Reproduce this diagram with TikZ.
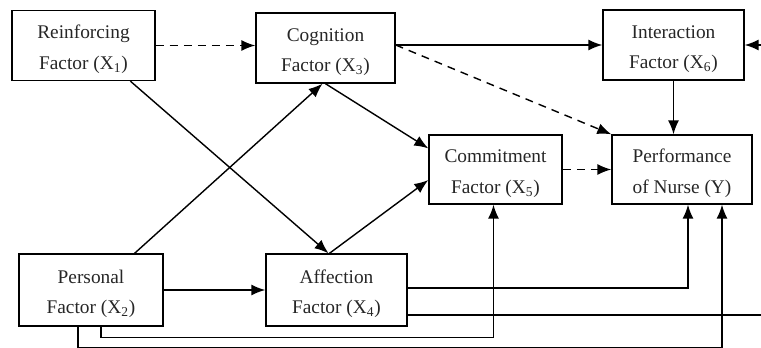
\documentclass[tikz,border=0pt]{standalone}
\usepackage{fontspec}
\setmainfont{Liberation Serif}
\usetikzlibrary{arrows.meta, positioning, calc}
\newcommand{\boxstrut}{\rule{0pt}{12pt}}
\tikzset{fbox/.style={rectangle, draw, line width=0.8pt, align=center, inner sep=2pt, minimum width=2.82cm, minimum height=1.4cm, font=\fontsize{11}{17.5}\selectfont, text=black!85},
link/.style={draw, line width=0.8pt, -{Latex[length=2.8mm,width=2.2mm]}},
dlink/.style={link, dash pattern=on 4.5pt off 3.5pt}}

\begin{document}
\begin{tikzpicture}[x=0.02cm, y=-0.02cm]
\useasboundingbox (0,0) rectangle (761,348);

\node[fbox, minimum width=2.86cm] (x1) at (83.5,45.5) {\boxstrut Reinforcing\\Factor (X\textsubscript{1})};
\node[fbox, minimum width=2.78cm] (x3) at (325.5,48) {\boxstrut Cognition\\Factor (X\textsubscript{3})};
\node[fbox] (x6) at (673.5,45) {\boxstrut Interaction\\Factor (X\textsubscript{6})};
\node[fbox, minimum width=2.66cm, minimum height=1.38cm] (x5) at (495.5,169.5) {\boxstrut Commitment\\Factor (X\textsubscript{5})};
\node[fbox, minimum width=2.8cm, minimum height=1.38cm] (y) at (682,169.5) {\boxstrut Performance\\of Nurse (Y)};
\node[fbox, minimum width=2.88cm, minimum height=1.44cm] (x2) at (91,290) {\boxstrut Personal\\Factor (X\textsubscript{2})};
\node[fbox, minimum height=1.44cm] (x4) at (336.5,290) {\boxstrut Affection\\Factor (X\textsubscript{4})};
\coordinate (redge) at (766,0);

\draw[dlink] (x1.east) -- (x1.east -| x3.west);
\draw[link] (x3.east |- x6.west) -- (x6.west);
\draw[dlink] (x3.east |- x6.west) -- (y.north west);
\draw[link] (x6.south) -- (x6.south |- y.north);
\draw[link] (x3.south) -- ($(x5.north west)!0.2!(x5.south west)$);
\draw[link] ($(x2.north)!0.6!(x2.north east)$) -- ($(x3.south)+(-3,0)$);
\draw[link] ($(x1.south)!0.65!(x1.south east)$) -- ($(x4.north)+(-8,0)$);
\draw[link] ($(x4.north)+(-7,0)$) -- ($(x5.north west)!0.65!(x5.south west)$);
\draw[dlink] (x5.east) -- (x5.east -| y.west);
\draw[link] (x2.east) -- (x2.east -| x4.west);
\draw[link] ($(x4.east)+(0,-2)$) -| ($(y.south)+(6,0)$);
\draw[link] ($(x4.east)+(0,25)$) -| (redge |- x6.east) -- (x6.east);
\draw[link] ($(x2.south)+(10,0)$) -- ++(0,11) -| ($(x5.south)+(-2,0)$);
\draw[link] ($(x2.south)+(-13,0)$) -- ++(0,21) -| ($(y.south)+(40,0)$);
\end{tikzpicture}
\end{document}
